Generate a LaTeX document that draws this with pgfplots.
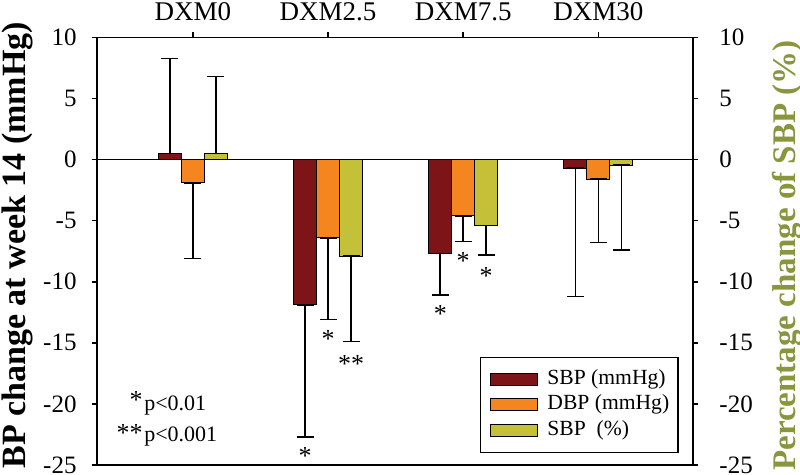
\documentclass[border=0pt]{standalone}
\usepackage{fontspec}
\setmainfont{Liberation Serif}
\usepackage{pgfplots}
\pgfplotsset{compat=1.18}
\definecolor{sbpcol}{RGB}{125,20,24}
\definecolor{dbpcol}{RGB}{245,134,31}
\definecolor{pctcol}{RGB}{196,192,56}
\definecolor{rlabcol}{RGB}{138,150,62}
\pgfplotsset{
  boxlegend/.style={legend image code/.code={%
    \path[draw=none, fill=none] (0pt,-3pt) rectangle (29pt,3pt);
    \draw[##1] (1.5pt,-3pt) rectangle (25pt,3pt);}},
  common/.style={
    at={(0,0)}, anchor=south west,
    scale only axis, width=298pt, height=213.75pt,
    xmin=-0.71, xmax=3.70, ymin=-25, ymax=10,
    ytick={-25,-20,-15,-10,-5,0,5,10},
    yticklabels={-25,-20,-15,-10,-5,0,5,10},
    tick align=outside, major tick length=2.7pt,
    axis line style={line width=0.75pt},
    every tick/.style={black, line width=0.75pt},
  },
}
\begin{document}
\begin{tikzpicture}
\begin{axis}[
  common,
  ybar=0pt, bar width=11.5pt,
  xtick={0,1,2,3}, xticklabels={DXM0,DXM2.5,DXM7.5,DXM30},
  xtick pos=top, xticklabel pos=top, ytick pos=left,
  xticklabel style={font=\fontsize{13.5}{15}\selectfont, yshift=2pt},
  yticklabel style={font=\fontsize{12.5}{14}\selectfont, xshift=-4pt},
  ylabel={BP change at week 14 (mmHg)},
  ylabel style={font=\bfseries\fontsize{17}{19}\selectfont,
    at={(axis description cs:-0.134,0.514)}, anchor=center},
  extra y ticks={0}, extra y tick labels={},
  extra y tick style={grid=major, major grid style={black, line width=0.75pt}},
  error bars/y dir=both, error bars/y explicit,
  error bars/error bar style={black, line width=0.75pt},
  error bars/error mark options={black, line width=0.75pt, mark size=4.25pt, rotate=90},
  legend style={at={(0.9765,0.028)}, anchor=south east, draw=black,
    line width=0.75pt, font=\fontsize{10.8}{12}\selectfont,
    inner xsep=3.5pt, inner ysep=5pt, row sep=0.75pt,
    nodes={inner sep=1pt, text height=7.5pt, text depth=2.5pt}},
  legend cell align=left,
]
% SBP (mmHg)
\addplot[fill=sbpcol, draw=black, line width=0.5pt, boxlegend] coordinates {
  (0,0.5) += (0,7.8) -= (0,0)
  (1,-11.9) += (0,0) -= (0,10.8)
  (2,-7.7) += (0,0) -= (0,3.4)
  (3,-0.7) += (0,0) -= (0,10.5)
};
% DBP (mmHg)
\addplot[fill=dbpcol, draw=black, line width=0.5pt, boxlegend] coordinates {
  (0,-1.9) += (0,0) -= (0,6.2)
  (1,-6.4) += (0,0) -= (0,6.7)
  (2,-4.6) += (0,0) -= (0,2.1)
  (3,-1.6) += (0,0) -= (0,5.2)
};
% SBP (%)
\addplot[fill=pctcol, draw=black, line width=0.5pt, boxlegend] coordinates {
  (0,0.5) += (0,6.3) -= (0,0)
  (1,-7.9) += (0,0) -= (0,7.0)
  (2,-5.4) += (0,0) -= (0,2.4)
  (3,-0.45) += (0,0) -= (0,6.95)
};
\legend{SBP (mmHg), DBP (mmHg), SBP\ \ (\%)}
% significance marks
\begin{scope}[every node/.style={font=\fontsize{13}{15}\selectfont, inner sep=0pt, anchor=base}]
\node at (axis cs:0.83,-25.0) {*};
\node at (axis cs:1,-15.4) {*};
\node at (axis cs:1.17,-17.4) {**};
\node at (axis cs:1.83,-13.3) {*};
\node at (axis cs:2,-9.0) {*};
\node at (axis cs:2.17,-10.2) {*};
\node[anchor=base east] at (axis cs:-0.37,-20.4) {*};
\node[anchor=base east] at (axis cs:-0.37,-23.1) {**};
\end{scope}
\node[anchor=base west, font=\fontsize{11}{13}\selectfont, inner sep=0pt] at (axis cs:-0.363,-20.5) {p<0.01};
\node[anchor=base west, font=\fontsize{11}{13}\selectfont, inner sep=0pt] at (axis cs:-0.363,-23.1) {p<0.001};
\end{axis}
\begin{axis}[
  common,
  axis y line*=right, axis x line=none,
  yticklabel style={font=\fontsize{12.5}{14}\selectfont, xshift=7pt},
  ylabel={Percentage change of SBP (\%)},
  ylabel style={font=\bfseries\fontsize{16.5}{19}\selectfont, color=rlabcol,
    at={(axis description cs:1.159,0.49)}, anchor=center},
]
\end{axis}
\pgfresetboundingbox
\path (-48.5pt,-5pt) rectangle (351.5pt,232.5pt);
\end{tikzpicture}
\end{document}
